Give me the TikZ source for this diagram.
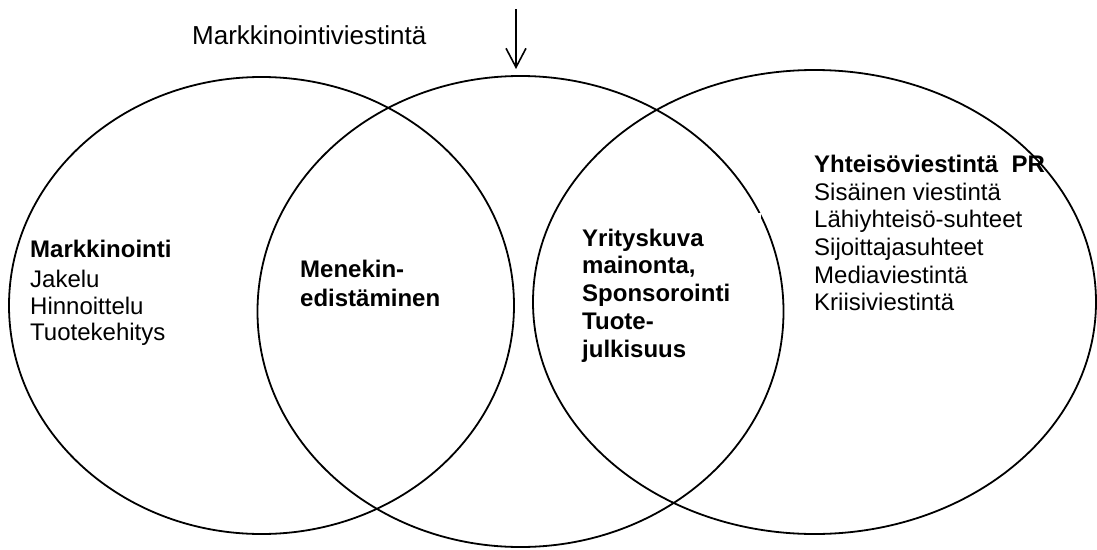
\documentclass[tikz,border=0pt]{standalone}
\usepackage{fontspec}
\setmainfont{Liberation Sans}
\usetikzlibrary{arrows.meta,shapes.geometric}
\begin{document}
\begin{tikzpicture}[x=1pt,y=-1pt,
  ring/.style={draw=black,line width=1.8pt,ellipse,inner sep=0pt,outer sep=0pt},
  txt/.style={anchor=base west,inner sep=0pt,font=\fontsize{24}{28}\selectfont},
  btxt/.style={anchor=base west,inner sep=0pt,font=\fontsize{24}{28}\selectfont\bfseries},
  toptxt/.style={anchor=base west,inner sep=0pt,font=\fontsize{26}{30}\selectfont},
  arr/.style={line width=1.6pt,-{Straight Barb[length=19pt,width=20pt,line width=1.6pt]}}]
\useasboundingbox (0,0) rectangle (1097,549);
% ellipses
\node[ring,minimum width=505pt,minimum height=457pt] (L) at (261.5,305.5) {};
\node[ring,minimum width=526pt,minimum height=471pt] (M) at (520.5,311.5) {};
\node[ring,minimum width=563pt,minimum height=464pt] (R) at (814.5,302) {};
% small white gap on the middle ellipse
\fill[white] (755,212.5) rectangle (761,218.5);
% arrow
\coordinate (aS) at (516,9);
\coordinate (aE) at (516,69);
\draw[arr] (aS) -- (aE);
% top label
\node[toptxt] (mv) at (192,44) {Markkinointiviestintä};
% left block
\node[btxt] (l1) at (30,257) {Markkinointi};
\node[txt] (l2) at (30,287) {Jakelu};
\node[txt] (l3) at (30,314) {Hinnoittelu};
\node[txt] (l4) at (30,340) {Tuotekehitys};
% middle block
\node[btxt] (m1) at (300,277) {Menekin-};
\node[btxt] (m2) at (300,306) {edistäminen};
% middle-right block
\node[btxt] (c1) at (582,246) {Yrityskuva};
\node[btxt] (c2) at (582,273) {mainonta,};
\node[btxt] (c3) at (582,301) {Sponsorointi};
\node[btxt] (c4) at (582,329) {Tuote-};
\node[btxt] (c5) at (582,357) {julkisuus};
% right block
\node[btxt] (r1) at (814,172) {Yhteisöviestintä\ \ PR};
\node[txt] (r2) at (814,200) {Sisäinen viestintä};
\node[txt] (r3) at (814,227) {Lähiyhteisö-suhteet};
\node[txt] (r4) at (814,255) {Sijoittajasuhteet};
\node[txt] (r5) at (814,283) {Mediaviestintä};
\node[txt] (r6) at (814,310) {Kriisiviestintä};
\end{tikzpicture}
\end{document}
